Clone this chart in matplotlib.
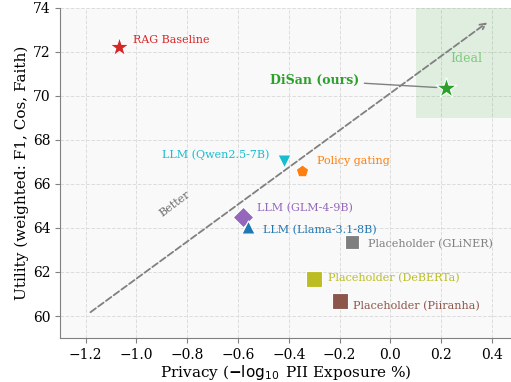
import matplotlib
matplotlib.use("Agg")
import matplotlib.pyplot as plt

# ===============================
# DATA
# ===============================
names = ["RAG Baseline", "DiSan (ours)", "LLM (Qwen2.5-7B)", "Policy gating",
         "LLM (GLM-4-9B)", "LLM (Llama-3.1-8B)", "Placeholder (GLiNER)",
         "Placeholder (DeBERTa)", "Placeholder (Piiranha)"]
privacy = [-1.07, 0.22, -0.42, -0.35, -0.58, -0.56, -0.15, -0.30, -0.20]
utility = [72.2, 70.35, 67.05, 66.6, 64.5, 64.05, 63.35, 61.7, 60.7]
colors = ["tab:red", "tab:green", "tab:cyan", "tab:orange", "tab:purple",
          "tab:blue", "tab:gray", "tab:olive", "tab:brown"]
markers = ["*", "*", "v", "p", "D", "^", "s", "s", "s"]
sizes = [220, 240, 90, 90, 110, 90, 100, 130, 130]
# label offsets in points (dx, dy, ha)
offsets = [(10, 5, "left"), None, (-10, 4, "right"), (11, 7, "left"),
           (10, 6, "left"), (11, -2, "left"), (11, -1, "left"),
           (10, 0, "left"), (10, -4, "left")]

plt.rcParams["font.family"] = "DejaVu Serif"

fig, ax = plt.subplots(figsize=(5.11, 3.82), dpi=100)
ax.set_facecolor("#f9f9f9")

ax.set_xlim(-1.3, 0.475)
ax.set_ylim(59, 74)

# ideal region
ax.axvspan(0.1, 0.475, ymin=(69 - 59) / 15, ymax=1, color="#2ca02c", alpha=0.12, lw=0)
ax.text(0.30, 71.7, "Ideal", color="#7fc97f", fontsize=9, ha="center", va="center")

# better arrow
ax.annotate("", xy=(0.39, 73.4), xytext=(-1.19, 60.1),
            arrowprops=dict(arrowstyle="->", color="gray", lw=1.3, ls="--"))
ax.text(-0.85, 65.1, "Better", color="dimgray", fontsize=8, rotation=37,
        ha="center", va="center")

for i in range(len(names)):
    ax.scatter(privacy[i], utility[i], marker=markers[i], s=sizes[i], color=colors[i],
               edgecolor="white", linewidth=0.8, zorder=3)
    if offsets[i] is not None:
        dx, dy, ha = offsets[i]
        ax.annotate(names[i], (privacy[i], utility[i]), xytext=(dx, dy),
                    textcoords="offset points", color=colors[i], fontsize=8,
                    ha=ha, va="center")

ax.annotate("DiSan (ours)", xy=(privacy[1], utility[1]), xytext=(-0.30, 70.7),
            color="tab:green", fontsize=9, fontweight="bold", ha="center", va="center",
            arrowprops=dict(arrowstyle="-", color="gray", lw=1.0, shrinkA=2, shrinkB=7))

ax.set_xticks([-1.2, -1.0, -0.8, -0.6, -0.4, -0.2, 0.0, 0.2, 0.4])
ax.set_yticks([60, 62, 64, 66, 68, 70, 72, 74])
ax.tick_params(labelsize=10, colors="black", length=3.5)
ax.tick_params(color="gray")
ax.grid(True, ls="--", color="#dddddd", lw=0.7)
ax.set_axisbelow(True)
ax.spines["top"].set_visible(False)
ax.spines["right"].set_visible(False)
ax.spines["left"].set_color("gray")
ax.spines["bottom"].set_color("gray")

ax.set_xlabel(r"Privacy ($\mathbf{-}\log_{10}$ PII Exposure %)", fontsize=11, labelpad=1)
ax.set_ylabel("Utility (weighted: F1, Cos, Faith)", fontsize=11, labelpad=3)

plt.subplots_adjust(left=0.118, right=1.0, top=0.98, bottom=0.115)
plt.savefig("out.png", dpi=100)
